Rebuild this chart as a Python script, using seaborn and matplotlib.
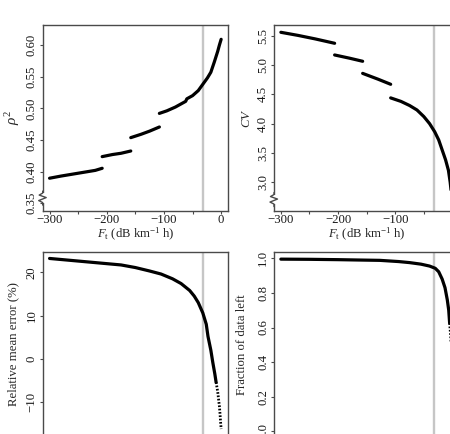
import matplotlib
matplotlib.use("Agg")
import matplotlib.pyplot as plt
import seaborn as sns
import pandas as pd
from matplotlib.lines import Line2D
from matplotlib.patches import Rectangle

# ---------------- data ----------------
threshold_x = -32.0

# rho^2 panel: four separate segments
rho_seg1_x = [-300, -280, -260, -240, -220, -208]
rho_seg1_y = [0.3896, 0.393, 0.396, 0.399, 0.402, 0.4053]
rho_seg2_x = [-208, -190, -175, -158]
rho_seg2_y = [0.4237, 0.427, 0.429, 0.4326]
rho_seg3_x = [-158, -140, -125, -108]
rho_seg3_y = [0.4537, 0.459, 0.464, 0.4705]
rho_seg4_x = [-108, -95, -80, -70, -62, -60, -50, -40, -32, -24, -18, -12, -6, -3, 0]
rho_seg4_y = [0.492, 0.496, 0.502, 0.507, 0.511, 0.515, 0.520, 0.528, 0.538,
              0.548, 0.557, 0.573, 0.590, 0.600, 0.609]

# CV panel: four separate segments
cv_seg1_x = [-300, -270, -240, -206]
cv_seg1_y = [5.563, 5.51, 5.45, 5.375]
cv_seg2_x = [-206, -180, -157]
cv_seg2_y = [5.175, 5.12, 5.067]
cv_seg3_x = [-157, -130, -108]
cv_seg3_y = [4.86, 4.76, 4.673]
cv_seg4_x = [-108, -90, -75, -62, -50, -40, -31, -24, -18, -12, -7, -4, -2, 0]
cv_seg4_y = [4.44, 4.38, 4.31, 4.233, 4.12, 4.0, 3.86, 3.72, 3.55, 3.38, 3.2,
             3.0, 2.82, 2.63]

# relative mean error
rme_x = [-300, -250, -200, -175, -150, -125, -105, -85, -70, -55, -47, -40, -32,
         -26, -23, -18, -14.6, -11, -8.8]
rme_y = [23.2, 22.6, 22.0, 21.7, 21.1, 20.3, 19.6, 18.5, 17.4, 15.8, 14.5, 13.0,
         10.6, 8.0, 5.2, 2.0, -0.8, -3.5, -5.4]
rme_tail_x = [-8.8, -6, -4.5, -3, -2, -1, 0]
rme_tail_y = [-5.4, -7.6, -9.3, -11.0, -12.6, -14.5, -16.2]

# fraction of data left
frac_x = [-300, -250, -200, -165, -127, -94, -75, -55, -40, -30, -24, -18, -13,
          -9, -6.5, -4.9]
frac_y = [0.995, 0.994, 0.992, 0.99, 0.988, 0.981, 0.975, 0.966, 0.955, 0.942,
          0.922, 0.88, 0.83, 0.76, 0.70, 0.625]
frac_tail_x = [-4.9, -3.8, -3, -1.5, 0]
frac_tail_y = [0.625, 0.58, 0.55, 0.45, 0.30]

x_ticks = [-300, -250, -200, -150, -100, -50, 0]
x_tick_labels_left = ["\u2212300", "", "\u2212200", "", "\u2212100", "", "0"]
x_tick_labels_right = ["\u2212300", "", "\u2212200", "", "\u2212100", "", ""]
rho_ticks = [0.35, 0.40, 0.45, 0.50, 0.55, 0.60]
rho_tick_labels = ["0.35", "0.40", "0.45", "0.50", "0.55", "0.60"]
cv_ticks = [3.0, 3.5, 4.0, 4.5, 5.0, 5.5]
cv_tick_labels = ["3.0", "3.5", "4.0", "4.5", "5.0", "5.5"]
rme_ticks = [-10, 0, 10, 20]
rme_tick_labels = ["\u221210", "0", "10", "20"]
frac_ticks = [0.0, 0.2, 0.4, 0.6, 0.8, 1.0]
frac_tick_labels = ["0.0", "0.2", "0.4", "0.6", "0.8", "1.0"]

xlabel = r"$F_{\mathrm{t}}$ (dB km$^{-1}$ h)"

# ---------------- styling ----------------
sns.set_theme(style="ticks")
plt.rcParams["font.family"] = ["Liberation Serif", "DejaVu Serif"]
plt.rcParams["mathtext.fontset"] = "custom"
plt.rcParams["mathtext.rm"] = "Liberation Serif"
plt.rcParams["mathtext.it"] = "Liberation Serif:italic"
plt.rcParams["mathtext.bf"] = "Liberation Serif:bold"

W, H = 450, 434
fig = plt.figure(figsize=(W / 100, H / 100), dpi=100, facecolor="white")

AXW, AXH = 185.3, 185.7


def make_ax(left, top):
    return fig.add_axes([left / W, 1 - (top + AXH) / H, AXW / W, AXH / H])


ax_tl = make_ax(42.7, 25)
ax_tr = make_ax(274, 25)
ax_bl = make_ax(42.7, 251.7)
ax_br = make_ax(274, 251.7)

FS = 9.2
SPINE_C = "#4a4a4a"


def seg_frame(xs_list, ys_list):
    rows = []
    for i, (xs, ys) in enumerate(zip(xs_list, ys_list)):
        for xv, yv in zip(xs, ys):
            rows.append({"x": xv, "y": yv, "seg": i})
    return pd.DataFrame(rows)


def style_ax(ax, ylim, yticks, ylabels, ylabel, ylab_x, xticklabels,
             show_xlabel=True, ylab_fs=FS):
    ax.set_xlim(-312, 12)
    ax.set_ylim(*ylim)
    ax.set_xticks(x_ticks, xticklabels if show_xlabel else [""] * len(x_ticks),
                  fontsize=FS)
    ax.set_yticks(yticks, ylabels, fontsize=FS, rotation=90, va="center")
    ax.tick_params(direction="out", length=2.5, width=0.8, color=SPINE_C,
                   pad=1.0, labelcolor="#1a1a1a")
    ax.tick_params(axis="x", pad=0.2)
    for s in ax.spines.values():
        s.set_visible(True)
        s.set_color(SPINE_C)
        s.set_linewidth(1.0)
    if show_xlabel:
        ax.set_xlabel(xlabel, fontsize=FS, va="center")
        ax.xaxis.set_label_coords(0.5, -0.128)
    else:
        ax.set_xlabel("")
    ax.set_ylabel(ylabel, fontsize=ylab_fs, va="center")
    ax.yaxis.set_label_coords(ylab_x, 0.5)
    ax.axvline(threshold_x, color="#c6c6c6", lw=1.7, zorder=0)


def axis_break(ax, frac_y):
    # zigzag break on the left axis, in pixel offsets around the break point
    base = ax.transAxes
    pts_px = [(0, -7), (0, -4.5), (-4, -2.5), (3.5, 0.5), (-3.5, 3.0), (0, 5), (0, 7)]
    xs = [p[0] / AXW for p in pts_px]
    ys = [frac_y + p[1] / AXH for p in pts_px]
    ax.add_patch(Rectangle((-6 / AXW, frac_y - 4.5 / AXH), 12 / AXW, 9.5 / AXH,
                           transform=base, facecolor="white", edgecolor="none",
                           clip_on=False, zorder=5))
    ax.add_line(Line2D(xs, ys, transform=base, color=SPINE_C, lw=1.0,
                       clip_on=False, zorder=6))


# rho^2
df_rho = seg_frame([rho_seg1_x, rho_seg2_x, rho_seg3_x, rho_seg4_x],
                   [rho_seg1_y, rho_seg2_y, rho_seg3_y, rho_seg4_y])
sns.lineplot(data=df_rho, x="x", y="y", units="seg", estimator=None,
             color="black", lw=2.3, sort=False, ax=ax_tl, legend=False)
style_ax(ax_tl, (0.3383, 0.6316), rho_ticks, rho_tick_labels,
         r"$\rho^{2}$", -0.162, x_tick_labels_left, ylab_fs=11)
axis_break(ax_tl, 0.068)

# CV
df_cv = seg_frame([cv_seg1_x, cv_seg2_x, cv_seg3_x, cv_seg4_x],
                  [cv_seg1_y, cv_seg2_y, cv_seg3_y, cv_seg4_y])
sns.lineplot(data=df_cv, x="x", y="y", units="seg", estimator=None,
             color="black", lw=2.3, sort=False, ax=ax_tr, legend=False)
style_ax(ax_tr, (2.509, 5.688), cv_ticks, cv_tick_labels, r"$CV$", -0.148,
         x_tick_labels_right)
axis_break(ax_tr, 0.06)

# relative mean error
df_rme = pd.DataFrame({"x": rme_x, "y": rme_y})
df_rme_tail = pd.DataFrame({"x": rme_tail_x, "y": rme_tail_y})
sns.lineplot(data=df_rme, x="x", y="y", color="black", lw=2.3, sort=False,
             ax=ax_bl, legend=False)
sns.lineplot(data=df_rme_tail, x="x", y="y", color="black", lw=2.0,
             linestyle=(0, (0.6, 0.6)), sort=False, ax=ax_bl, legend=False)
style_ax(ax_bl, (-18.13, 24.76), rme_ticks, rme_tick_labels,
         "Relative mean error (%)", -0.16, x_tick_labels_left, show_xlabel=False)

# fraction of data left
df_frac = pd.DataFrame({"x": frac_x, "y": frac_y})
df_frac_tail = pd.DataFrame({"x": frac_tail_x, "y": frac_tail_y})
sns.lineplot(data=df_frac, x="x", y="y", color="black", lw=2.3, sort=False,
             ax=ax_br, legend=False)
sns.lineplot(data=df_frac_tail, x="x", y="y", color="black", lw=2.0,
             linestyle=(0, (0.6, 0.6)), sort=False, ax=ax_br, legend=False)
style_ax(ax_br, (-0.035, 1.038), frac_ticks, frac_tick_labels,
         "Fraction of data left", -0.17, x_tick_labels_right, show_xlabel=False)

fig.savefig("out.png", dpi=100, facecolor="white")
